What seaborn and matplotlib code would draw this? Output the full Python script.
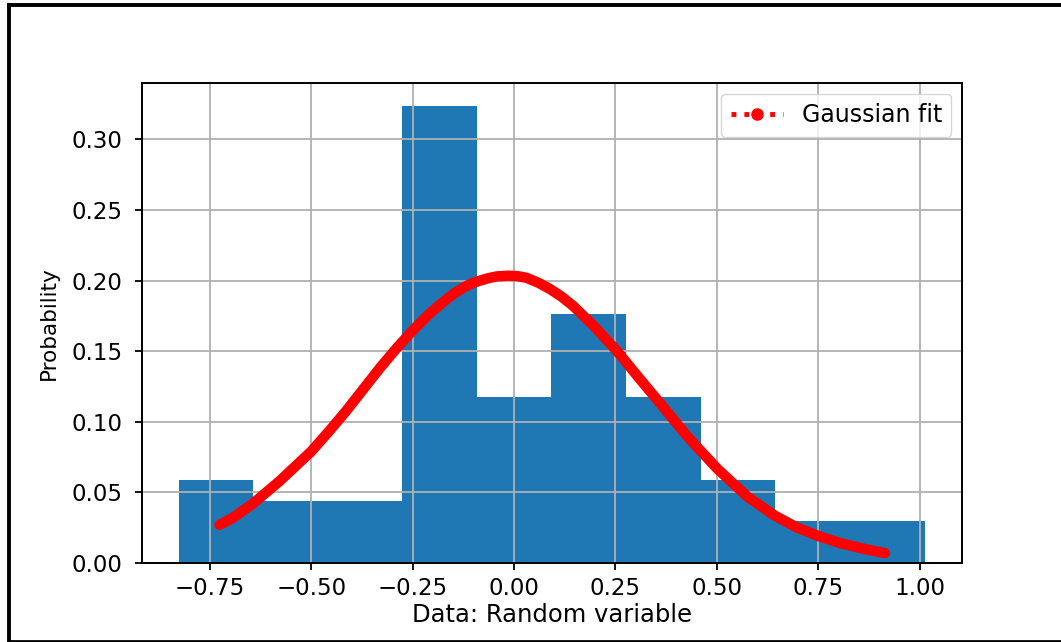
import matplotlib
matplotlib.use("Agg")
import matplotlib.pyplot as plt
from matplotlib.lines import Line2D
import pandas as pd
import seaborn as sns

# Histogram: bin edges and probability per bin
bin_edges = [-0.827, -0.643, -0.459, -0.275, -0.092, 0.092, 0.276, 0.460, 0.644, 0.828, 1.012]
probabilities = [0.0588, 0.0441, 0.0441, 0.3235, 0.1176, 0.1765, 0.1176, 0.0588, 0.0294, 0.0294]

# Fitted Gaussian curve, sampled along x
fit_x = [-0.726, -0.693, -0.644, -0.578, -0.500, -0.454, -0.413, -0.372, -0.331, -0.290,
         -0.249, -0.207, -0.166, -0.145, -0.125, -0.105, -0.084, -0.064, -0.043, -0.015,
         0.008, 0.031, 0.060, 0.089, 0.118, 0.146, 0.196, 0.254, 0.311, 0.369,
         0.426, 0.500, 0.575, 0.640, 0.698, 0.751, 0.805, 0.863, 0.914]
fit_y = [0.027, 0.032, 0.042, 0.058, 0.079, 0.094, 0.108, 0.123, 0.138, 0.152,
         0.165, 0.177, 0.187, 0.1915, 0.195, 0.198, 0.200, 0.2017, 0.203, 0.2035,
         0.2032, 0.202, 0.1985, 0.194, 0.1885, 0.182, 0.168, 0.150, 0.130, 0.110,
         0.090, 0.067, 0.047, 0.034, 0.025, 0.019, 0.014, 0.010, 0.007]

x_ticks = [-0.75, -0.50, -0.25, 0.00, 0.25, 0.50, 0.75, 1.00]
y_ticks = [0.00, 0.05, 0.10, 0.15, 0.20, 0.25, 0.30]

plt.rcParams.update({
    "font.family": ["DejaVu Sans"],
    "axes.axisbelow": "line",
    "axes.linewidth": 1.4,
    "xtick.major.size": 5,
    "ytick.major.size": 5,
    "xtick.major.width": 1.3,
    "ytick.major.width": 1.3,
    "xtick.major.pad": 5,
    "ytick.major.pad": 9,
})

fig = plt.figure(figsize=(10.61, 6.42), dpi=100)
fig.patch.set_facecolor("white")
ax = fig.add_axes([142 / 1061, 1 - 563 / 642, 820 / 1061, 480 / 642])

centers = [(a + b) / 2 for a, b in zip(bin_edges[:-1], bin_edges[1:])]
hist_df = pd.DataFrame({"value": centers, "probability": probabilities})
sns.histplot(data=hist_df, x="value", weights="probability", bins=bin_edges,
             stat="count", color="#1f77b4", alpha=1, linewidth=0,
             edgecolor="#1f77b4", ax=ax)

sns.lineplot(x=fit_x, y=fit_y, color="red", linewidth=7.5, sort=False,
             solid_capstyle="round", solid_joinstyle="round", ax=ax)

ax.set_xlim(-0.917, 1.104)
ax.set_ylim(0, 0.34)
ax.set_xticks(x_ticks)
ax.set_xticklabels([f"{v:.2f}".replace("-", "\u2212") for v in x_ticks], fontsize=16.5)
ax.set_yticks(y_ticks)
ax.set_yticklabels([f"{v:.2f}" for v in y_ticks], fontsize=16.5)
ax.grid(True, color="#b0b0b0", linewidth=1.3)

ax.set_xlabel("Data: Random variable", fontsize=17.5, labelpad=2)
ax.set_ylabel("Probability", fontsize=15.5, labelpad=9)

handle = Line2D([], [], color="red", linestyle=":", linewidth=3.5,
                marker="o", markersize=8)
ax.legend([handle], ["Gaussian fit"], loc="upper right", fontsize=17,
          handlelength=2.2, borderaxespad=0.45)

# Frame lines around the figure (left, top, bottom)
lx = 8.5 / 1061
ty = 1 - 5 / 642
by = 1.5 / 642
fig.add_artist(Line2D([lx, lx], [by, ty], transform=fig.transFigure, color="black", linewidth=2.8))
fig.add_artist(Line2D([lx, 1.0], [ty, ty], transform=fig.transFigure, color="black", linewidth=2.8))
fig.add_artist(Line2D([lx, 1.0], [by, by], transform=fig.transFigure, color="black", linewidth=2.0))

fig.savefig("out.png", dpi=100, facecolor="white")
